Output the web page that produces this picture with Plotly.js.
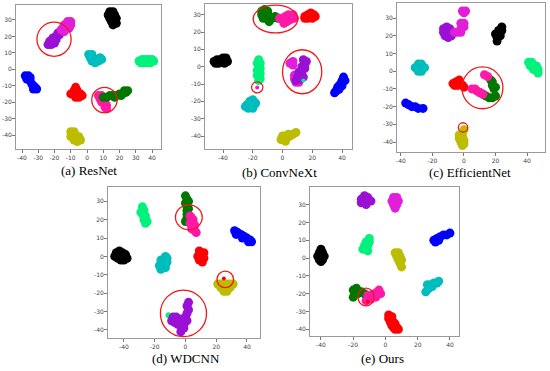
<!DOCTYPE html>
<html><head><meta charset="utf-8">
<script src="https://cdn.plot.ly/plotly-3.0.1.min.js"></script>
<style>html,body{margin:0;padding:0;background:#fff}#c{width:550px;height:371px}</style>
</head><body><div id="c"></div>
<script>
// ---------- colours ----------
const COL = {black:'#000000', purple:'#9a10d4', magenta:'#e31ed8', pink:'#ff1aa6', springgreen:'#00f27c',
  cyan:'#00bdbd', blue:'#0000ff', red:'#ff0000', green:'#007800', olive:'#bcbc00'};

// ---------- (a) ResNet ----------
const a_black = [[14,35],[16,35],[13,33],[15,33],[17,33],[14,31],[16,31],[18,31],[15,29],[17,29],[16,27],[18,28]];
const a_purple = [[-24,15],[-22,15],[-23,17],[-21,17],[-19,18],[-21,19],[-19,20],[-17,21],[-18,22],[-16,23],[-20,16]];
const a_magenta = [[-12,29],[-10,29],[-14,27],[-12,27],[-10,27],[-15,25],[-13,25],[-11,25],[-16,24],[-14,23]];
const a_cyan = [[1,9],[3,9],[2,7],[4,6],[3,5],[5,4],[7,5],[9,6],[8,7],[6,6]];
const a_springgreen = [[32,5],[34,6],[36,6],[38,6],[40,6],[41,5],[33,4],[35,4],[37,4],[39,4]];
const a_blue = [[-38,-4],[-36,-4],[-37,-6],[-35,-7],[-34,-9],[-33,-10],[-32,-11],[-31,-12],[-35,-5],[-33,-12]];
const a_red = [[-7,-11],[-8,-13],[-6,-13],[-10,-15],[-8,-15],[-6,-15],[-4,-15],[-3,-16],[-7,-17],[-5,-17]];
const a_pink = [[7,-16],[9,-16],[8,-18],[10,-18],[9,-20],[11,-20],[12,-22],[11,-23],[12,-24]];
const a_green = [[10,-17],[12,-17],[14,-16],[16,-16],[18,-16],[20,-15],[22,-15],[24,-14],[25,-13],[17,-17],[21,-16],[23,-13]];
const a_olive = [[-10,-38],[-8,-38],[-9,-40],[-7,-40],[-10,-41],[-7,-42],[-5,-41],[-4,-43],[-6,-44],[-8,-43]];
const a_circles = [[-20.3,18.3,10.5,10.4],[10.7,-18.7,7.8,7.7]];

// ---------- (b) ConvNeXt ----------
const b_green = [[-14,32],[-12,33],[-10,32],[-14,30],[-12,30],[-13,28],[-11,28],[-9,29],[-7,28],[-9,26],[-5,29],[-3,28]];
const b_pink = [[-2,28],[0,27],[2,29],[4,30],[6,29],[8,28],[5,27],[3,26],[1,25],[7,30]];
const b_red = [[15,29],[17,30],[19,31],[21,30],[20,28],[17,28],[22,29],[15,28]];
const b_black = [[-46,3],[-44,4],[-42,4],[-40,5],[-38,5],[-37,3],[-39,2],[-43,2],[-41,3],[-45,2]];
const b_springgreen = [[-16,4],[-15,2],[-17,2],[-16,0],[-15,-1],[-17,-2],[-16,-3],[-15,-4],[-17,-5],[-16,-6],[-15,-7],[-16,-8]];
const b_magenta_dot = [[-17,-12]];
const b_cyan = [[-24,-22],[-22,-20],[-20,-19],[-21,-22],[-19,-22],[-23,-24],[-20,-24],[-18,-21],[-25,-23]];
const b_purple = [[14,4],[16,3],[15,1],[13,0],[15,-1],[11,-3],[13,-3],[13,-5],[10,-6],[12,-7],[9,-8],[14,-6]];
const b_magenta = [[5,2],[7,3],[7,1],[8,-5],[8,-7],[9,-9],[11,-9]];
const b_springgreen_dot = [[14,-8]];
const b_blue = [[41,-6],[40,-8],[42,-8],[39,-10],[38,-11],[37,-12],[36,-14],[35,-15],[40,-11],[38,-13]];
const b_olive = [[0,-40],[2,-40],[1,-42],[3,-41],[5,-40],[7,-39],[9,-38],[-1,-42],[4,-39],[2,-43]];
const b_circles = [[-4.7,27.5,15,8],[13.2,-2.9,13.2,12.7],[-17,-11.9,3.8,3.2]];

// ---------- (c) EfficientNet ----------
const c_magenta_top = [[-1,34],[1,34],[0,33]];
const c_purple = [[-13,24],[-11,25],[-9,24],[-13,22],[-11,22],[-9,22],[-12,20],[-10,19],[-8,20]];
const c_magenta = [[-6,22],[-4,22],[-2,22],[-2,24],[-1,26],[0,27],[-2,27],[0,25]];
const c_black = [[24,25],[22,23],[24,23],[20,21],[22,21],[21,19],[23,20],[21,17]];
const c_cyan = [[-29,4],[-27,4],[-31,2],[-29,2],[-27,2],[-25,2],[-29,0],[-27,0]];
const c_springgreen = [[41,5],[43,5],[42,3],[44,3],[46,3],[45,1],[47,1],[47,-1],[44,1]];
const c_red = [[-7,-7],[-5,-6],[-3,-5],[-2,-7],[-4,-8],[-1,-8],[-6,-8],[0,-9]];
const c_pink = [[5,-10],[7,-10],[8,-11],[13,-2],[15,-3],[10,-12],[12,-13]];
const c_green = [[17,-5],[18,-6],[18,-8],[19,-10],[20,-9],[10,-12],[12,-13],[14,-14],[16,-15],[18,-15],[20,-14]];
const c_blue = [[-37,-18],[-35,-19],[-33,-20],[-31,-20],[-29,-21],[-26,-21]];
const c_olive = [[0,-33],[-1,-35],[-3,-36],[-1,-37],[-3,-38],[0,-39],[-2,-40],[0,-41],[-1,-42]];
const c_circles = [[11.7,-9.4,13,11.8],[-0.6,-31.7,3,2.6]];

// ---------- (d) WDCNN ----------
const d_black = [[-45,2],[-43,3],[-41,2],[-39,1],[-44,-1],[-42,-2],[-40,-2],[-38,-1],[-42,0],[-46,0]];
const d_springgreen = [[-28,27],[-27,25],[-28,23],[-26,22],[-27,20],[-25,19],[-26,18],[-29,24]];
const d_cyan = [[-13,0],[-12,-1],[-16,-2],[-14,-3],[-12,-3],[-17,-5],[-15,-5],[-13,-6],[-16,-7]];
const d_green = [[0,33],[1,31],[0,29],[1,27],[1,25],[1,23],[1,21],[0,19],[2,30],[2,26]];
const d_pink = [[3,22],[4,21],[5,20],[3,18],[5,17],[4,15],[6,14],[7,13],[6,17]];
const d_red = [[9,3],[10,1],[8,0],[11,0],[12,-1],[9,-2],[11,-3],[12,2]];
const d_blue = [[32,14],[34,13],[33,12],[36,12],[38,11],[37,10],[40,10],[42,9],[43,8],[41,8]];
const d_olive = [[21,-15],[23,-15],[25,-15],[27,-15],[29,-15],[31,-15],[23,-17],[25,-17],[27,-17],[29,-17],[25,-19],[27,-19]];
const d_red_dot = [[25,-12]];
const d_purple = [[2,-25],[1,-27],[2,-29],[1,-31],[0,-33],[1,-35],[-1,-37],[-2,-39],[-3,-41],[-4,-35],[-6,-33],[-8,-33],[-5,-37],[-7,-36],[-9,-35],[-3,-34],[-1,-39]];
const d_springgreen_dot = [[-11,-32]];
const d_circles = [[2.2,21.3,8.7,6.8],[25.9,-12.5,5.4,4.5],[-1.3,-31,15,12.7]];

// ---------- (e) Ours ----------
const e_black = [[-40,5],[-41,3],[-39,3],[-42,1],[-40,1],[-38,1],[-41,-1],[-39,-1],[-40,-2]];
const e_purple = [[-13,35],[-11,34],[-15,33],[-13,32],[-11,32],[-9,32],[-15,31],[-12,30]];
const e_magenta = [[5,34],[7,34],[4,32],[6,32],[8,32],[5,30],[7,30],[6,28]];
const e_springgreen = [[-10,11],[-10,9],[-11,7],[-12,5],[-14,5],[-11,4],[-13,7],[-12,9]];
const e_olive = [[6,3],[8,3],[7,1],[9,1],[8,-1],[10,-1],[9,-3],[10,-5]];
const e_blue = [[30,10],[32,11],[31,9],[34,12],[36,13],[38,13],[40,14],[33,10]];
const e_cyan = [[25,-19],[27,-17],[26,-15],[28,-15],[30,-14],[32,-14],[33,-13],[29,-16]];
const e_red = [[2,-32],[4,-33],[2,-34],[4,-35],[3,-36],[5,-36],[4,-38],[6,-37],[5,-39],[7,-39],[6,-40],[8,-40]];
const e_green = [[-20,-18],[-18,-17],[-19,-20],[-20,-22],[-17,-20],[-15,-19],[-13,-20],[-12,-21]];
const e_pink = [[-11,-21],[-9,-21],[-7,-20],[-5,-19],[-4,-18],[-3,-20],[-6,-22],[-9,-23],[-12,-24]];
const e_red_dot = [[-11,-24.5]];
const e_circles = [[-12.1,-21.9,5,5]];

// ---------- axes ----------
const panelNames = ['(a) ResNet','(b) ConvNeXt','(c) EfficientNet','(d) WDCNN','(e) Ours'];
const xRanges = [[-43.7,45.5],[-52.1,46.7],[-42.5,51.4],[-50.4,48.5],[-46.8,45.6]];
const yRanges = [[-48.5,39.1],[-47.5,36.2],[-45.6,38.5],[-44.4,37.8],[-43.8,39.9]];
const xTicks = [[-40,-30,-20,-10,0,10,20,30,40],[-40,-20,0,20,40],[-40,-20,0,20,40],[-40,-20,0,20,40],[-40,-20,0,20,40]];
const yTicks = [-40,-30,-20,-10,0,10,20,30];

// pixel frames of each panel [left,right,top,bottom]
const W = 550, H = 371;
const frames = [[16,161,5,149],[205,352,4,149],[397,545,3,152],[108,260,187,338],[310,459,187,336]];
const captionPos = [[89,170],[279,172],[470,172],[186,358],[382,358]];
const MS = 9;

const traces = [];
function add(pts, color, p, size){
  const s = p===0 ? '' : String(p+1);
  traces.push({type:'scatter', mode:'markers', x:pts.map(q=>q[0]), y:pts.map(q=>q[1]),
    xaxis:'x'+s, yaxis:'y'+s, marker:{color:color, size:size||MS, line:{width:0}},
    hoverinfo:'skip', showlegend:false});
}
// (a)
add(a_black,COL.black,0); add(a_purple,COL.purple,0); add(a_magenta,COL.magenta,0); add(a_cyan,COL.cyan,0);
add(a_springgreen,COL.springgreen,0); add(a_blue,COL.blue,0); add(a_red,COL.red,0); add(a_pink,COL.pink,0);
add(a_green,COL.green,0); add(a_olive,COL.olive,0);
// (b)
add(b_green,COL.green,1); add(b_pink,COL.pink,1); add(b_red,COL.red,1); add(b_black,COL.black,1);
add(b_springgreen,COL.springgreen,1); add(b_magenta_dot,COL.magenta,1,4); add(b_cyan,COL.cyan,1);
add(b_magenta,COL.magenta,1); add(b_purple,COL.purple,1); add(b_springgreen_dot,COL.springgreen,1,4);
add(b_blue,COL.blue,1); add(b_olive,COL.olive,1);
// (c)
add(c_magenta_top,COL.magenta,2); add(c_purple,COL.purple,2); add(c_magenta,COL.magenta,2); add(c_black,COL.black,2);
add(c_cyan,COL.cyan,2); add(c_springgreen,COL.springgreen,2); add(c_red,COL.red,2); add(c_green,COL.green,2);
add(c_pink,COL.pink,2); add(c_blue,COL.blue,2); add(c_olive,COL.olive,2);
// (d)
add(d_black,COL.black,3); add(d_springgreen,COL.springgreen,3); add(d_cyan,COL.cyan,3); add(d_green,COL.green,3);
add(d_pink,COL.pink,3); add(d_red,COL.red,3); add(d_blue,COL.blue,3); add(d_olive,COL.olive,3);
add(d_red_dot,COL.red,3,4); add(d_springgreen_dot,COL.springgreen,3,6); add(d_purple,COL.purple,3);
// (e)
add(e_black,COL.black,4); add(e_purple,COL.purple,4); add(e_magenta,COL.magenta,4); add(e_springgreen,COL.springgreen,4);
add(e_olive,COL.olive,4); add(e_blue,COL.blue,4); add(e_cyan,COL.cyan,4); add(e_red,COL.red,4);
add(e_green,COL.green,4); add(e_pink,COL.pink,4); add(e_red_dot,COL.red,4,4);

const layout = {width:W, height:H, margin:{l:0,r:0,t:0,b:0}, paper_bgcolor:'#fff', plot_bgcolor:'#fff',
  showlegend:false, shapes:[], annotations:[]};
const allCircles = [a_circles,b_circles,c_circles,d_circles,e_circles];
const lbl = v => String(v); // hyphen-minus labels, as in the reference
for(let p=0;p<5;p++){
  const s = p===0 ? '' : String(p+1);
  const f = frames[p];
  const common = {ticks:'outside', ticklen:3, tickwidth:1, tickcolor:'#777', showline:true, mirror:true,
    linecolor:'#9a9a9a', linewidth:1, showgrid:false, zeroline:false, fixedrange:true,
    tickfont:{family:'DejaVu Sans', size:6, color:'#444'}};
  layout['xaxis'+s] = Object.assign({}, common, {domain:[f[0]/W, f[1]/W], range:xRanges[p], tickvals:xTicks[p],
    ticktext:xTicks[p].map(lbl), tickmode:'array', anchor:'y'+s});
  layout['yaxis'+s] = Object.assign({}, common, {domain:[(H-f[3])/H, (H-f[2])/H], range:yRanges[p], tickvals:yTicks,
    ticktext:yTicks.map(lbl), tickmode:'array', anchor:'x'+s, ticklabelstandoff:-1});
  allCircles[p].forEach(c=>{
    layout.shapes.push({type:'circle', xref:'x'+s, yref:'y'+s, x0:c[0]-c[2], x1:c[0]+c[2], y0:c[1]-c[3], y1:c[1]+c[3],
      line:{color:'#f01818', width:1.3}, fillcolor:'rgba(0,0,0,0)'});
  });
  layout.annotations.push({text:panelNames[p], xref:'paper', yref:'paper', x:captionPos[p][0]/W, y:(H-captionPos[p][1])/H,
    xanchor:'center', yanchor:'middle', showarrow:false, font:{family:'Liberation Serif', size:13, color:'#000'}});
}
Plotly.newPlot('c', traces, layout, {staticPlot:true, displayModeBar:false});
</script></body></html>
